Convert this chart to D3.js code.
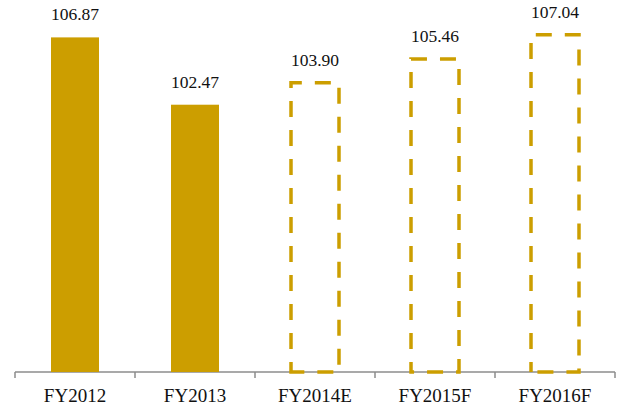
<!DOCTYPE html>
<html>
<head>
<meta charset="utf-8">
<script src="https://cdn.jsdelivr.net/npm/d3@7"></script>
<style>
  html, body { margin: 0; padding: 0; background: #fff; }
  svg { display: block; }
</style>
</head>
<body>
<svg id="chart" width="621" height="412"></svg>
<script>
// Fiscal years and values; estimates/forecasts are drawn as dashed outlines
const categories = ["FY2012", "FY2013", "FY2014E", "FY2015F", "FY2016F"];
const values = [106.87, 102.47, 103.90, 105.46, 107.04];
const projected = [false, false, true, true, true];
const valueLabels = ["106.87", "102.47", "103.90", "105.46", "107.04"];

const gold = "#CC9E00";
const serif = "'Liberation Serif', 'Times New Roman', Times, serif";
const svg = d3.select("#chart");

const x = d3.scaleBand()
  .domain(categories)
  .range([15, 615])
  .paddingInner(0.6)
  .paddingOuter(0.3);

const y = d3.scaleLinear()
  .domain([85, 110])
  .range([372, -10.5]);

// Category axis labels
const axis = svg.append("g")
  .attr("transform", "translate(0,372)")
  .call(d3.axisBottom(x).tickSize(0).tickPadding(0));
axis.select(".domain").remove();
axis.attr("font-family", serif).attr("font-size", 19);
axis.selectAll("text")
  .attr("y", 30)
  .attr("dy", null)
  .attr("fill", "#111");

svg.append("line")
  .attr("x1", 15).attr("x2", 615)
  .attr("y1", 372).attr("y2", 372)
  .attr("stroke", "#8c8c8c").attr("stroke-width", 1.5);

const step = x.step();
const tickXs = d3.range(categories.length + 1).map(i => 15 + i * step);
svg.selectAll("line.tick")
  .data(tickXs)
  .join("line")
  .attr("class", "tick")
  .attr("x1", d => d).attr("x2", d => d)
  .attr("y1", 372).attr("y2", 378)
  .attr("stroke", "#8c8c8c").attr("stroke-width", 1.5);

const rows = categories.map((c, i) => ({ c, v: values[i], p: projected[i], label: valueLabels[i] }));

// Actual years: solid bars
svg.selectAll("rect.actual")
  .data(rows.filter(d => !d.p))
  .join("rect")
  .attr("class", "actual")
  .attr("x", d => x(d.c))
  .attr("y", d => y(d.v))
  .attr("width", x.bandwidth())
  .attr("height", d => y(85) - y(d.v))
  .attr("fill", gold);

// Projected years: dashed outlines traced clockwise from the bottom-left corner
svg.selectAll("path.projected")
  .data(rows.filter(d => d.p))
  .join("path")
  .attr("class", "projected")
  .attr("d", d => {
    const x0 = x(d.c), x1 = x(d.c) + x.bandwidth();
    const y0 = y(85), y1 = y(d.v);
    const p = d3.path();
    p.moveTo(x0, y0);
    p.lineTo(x0, y1);
    p.lineTo(x1, y1);
    p.lineTo(x1, y0);
    p.closePath();
    return p.toString();
  })
  .attr("fill", "none")
  .attr("stroke", gold)
  .attr("stroke-width", 3.5)
  .attr("stroke-dasharray", "16,13")
  .attr("stroke-dashoffset", 6);

// Value labels above each bar
svg.selectAll("text.value")
  .data(rows)
  .join("text")
  .attr("class", "value")
  .attr("x", d => x(d.c) + x.bandwidth() / 2)
  .attr("y", d => y(d.v) - 17)
  .attr("text-anchor", "middle")
  .attr("font-family", serif)
  .attr("font-size", 17.5)
  .attr("fill", "#111")
  .text(d => d.label);
</script>
</body>
</html>
